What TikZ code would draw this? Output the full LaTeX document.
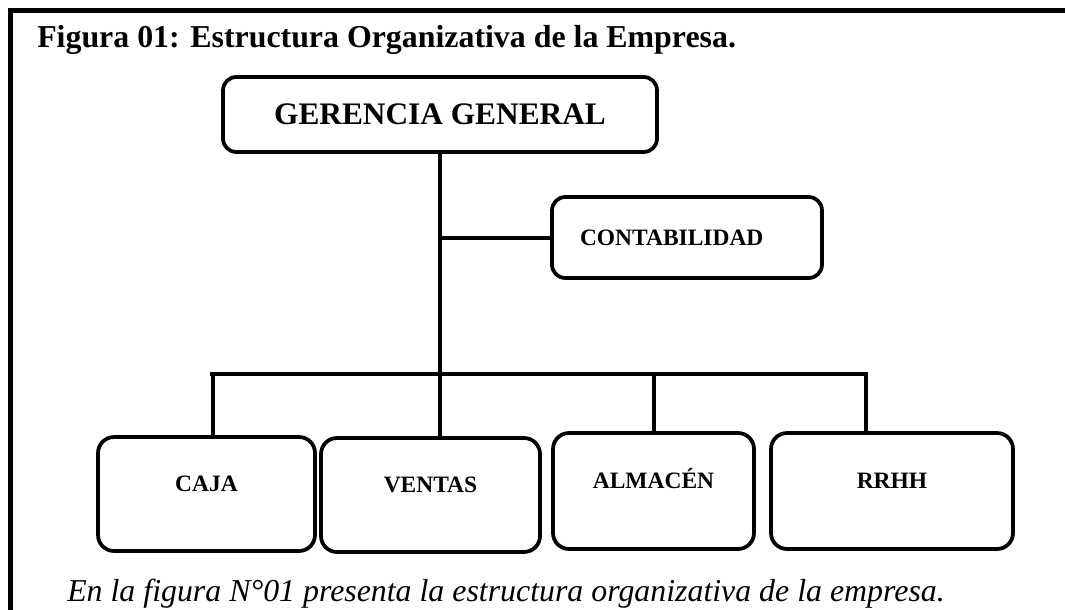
\documentclass[tikz,border=0pt]{standalone}
\usepackage{fontspec}
\setmainfont{Liberation Serif}
\usetikzlibrary{positioning}
\tikzset{
  cargo/.style={draw, line width=2.8pt, rounded corners=12pt, font=\fontsize{17.6}{20}\selectfont\bfseries,
    text height=11pt, text depth=14.5pt, inner sep=0pt},
  enlace/.style={line width=3pt},
  marco/.style={line width=3.6pt, line join=miter}
}
\begin{document}
\begin{tikzpicture}[x=0.75pt,y=-0.75pt]
\useasboundingbox (0,0) rectangle (1065,610);
\draw[marco] (10.5,612) -- (10.5,10.5) -- (1067,10.5);

\node[anchor=base west, font=\fontsize{23.9}{28}\selectfont\bfseries, inner sep=0pt] (titulo) at (37,48)
  {Figura 01: Estructura Organizativa de la Empresa.};

\node[draw, line width=2.8pt, rounded corners=10pt, minimum width=325.5pt, minimum height=56.25pt,
  font=\fontsize{23.5}{28}\selectfont\bfseries] (gerencia) at (440,114.5) {GERENCIA GENERAL};
\node[draw, line width=2.8pt, rounded corners=10pt, minimum height=60.75pt, inner xsep=21pt,
  text width=160.5pt, align=left, font=\fontsize{17.6}{20}\selectfont\bfseries] (conta) at (687,237.5) {CONTABILIDAD};

\node[cargo, minimum width=162.75pt, minimum height=85.5pt] (caja) at (206.5,494) {CAJA};
\node[cargo, minimum width=164.25pt, minimum height=85.5pt] (ventas) at (430.5,495) {VENTAS};
\node[cargo, minimum width=150.75pt, minimum height=87pt] (almacen) at (653.5,491) {ALMAC\'EN};
\node[cargo, minimum width=181.5pt, minimum height=87pt] (rrhh) at (892,491) {RRHH};

\coordinate (busL) at (210,374);
\coordinate (busR) at (868,374);
\coordinate (dCaja) at (213,374);

\draw[enlace] (gerencia.south) -- (gerencia.south |- ventas.north);
\draw[enlace] (gerencia.south |- conta.west) -- (conta.west);
\draw[enlace] (busL) -- (busR);
\draw[enlace] (dCaja) -- (dCaja |- caja.north);
\draw[enlace] (almacen.north |- busL) -- (almacen.north);
\draw[enlace] ([xshift=-1.5pt]busR) -- ([xshift=-1.5pt]busR |- rrhh.north);

\node[anchor=base west, font=\fontsize{23.9}{28}\selectfont\itshape, inner sep=0pt] (nota) at (67,601)
  {En la figura N°01 presenta la estructura organizativa de la empresa.};
\end{tikzpicture}
\end{document}
